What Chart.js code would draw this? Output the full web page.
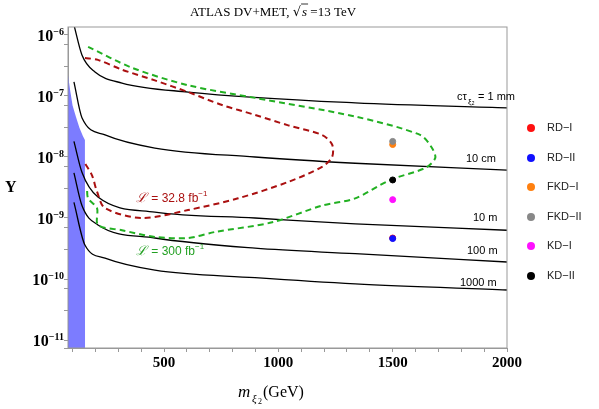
<!DOCTYPE html>
<html>
<head>
<meta charset="utf-8">
<script src="https://cdn.jsdelivr.net/npm/chart.js@4.4.0/dist/chart.umd.min.js"></script>
<style>
  body { margin: 0; background: #fff; }
  #wrap { position: relative; width: 599px; height: 409px; }
  .leg { position: absolute; left: 526px; font: 11px "Liberation Sans", sans-serif; color: #222; }
  .leg span { display: inline-block; width: 8px; height: 8px; border-radius: 50%; margin-right: 12px; vertical-align: -1px; }
</style>
</head>
<body>
<div id="wrap"><canvas id="chart" width="599" height="409"></canvas></div>
<script>
// curvas cτ (m en GeV, Y)
const mTau1 = [106, 141, 198, 316, 605, 1336, 2000];
const yTau1 = [1.46e-6, 4.7e-7, 2.47e-7, 1.63e-7, 1.16e-7, 7.7e-8, 6.4e-8];
const mTau2 = [106, 141, 242, 460, 898, 1336, 2000];
const yTau2 = [1.7e-7, 4.4e-8, 2.3e-8, 1.4e-8, 1.0e-8, 7.9e-9, 6.1e-9];
const mTau3 = [106, 141, 211, 460, 898, 1336, 2000];
const yTau3 = [1.8e-8, 5.6e-9, 2.2e-9, 1.25e-9, 1.0e-9, 8.0e-10, 6.3e-10];
const mTau4 = [106, 141, 211, 460, 898, 1336, 2000];
const yTau4 = [5.5e-9, 1.6e-9, 7.7e-10, 4.7e-10, 3.2e-10, 2.6e-10, 1.9e-10];
const mTau5 = [106, 154, 242, 460, 898, 1336, 2000];
const yTau5 = [1.8e-9, 3.6e-10, 2.2e-10, 1.4e-10, 1.05e-10, 8.3e-11, 6.6e-11];

// contornos de sensibilidad
const mRed = [154, 211, 316, 460, 605, 754, 898, 1043, 1191, 1235, 1235, 1191, 1043, 824, 605, 404, 242, 207, 185, 154];
const yRed = [4.2e-7, 3.9e-7, 2.7e-7, 1.8e-7, 1.16e-7, 7.1e-8, 4.9e-8, 3.3e-8, 2.3e-8, 1.6e-8, 1.0e-8, 6.9e-9, 3.9e-9, 2.1e-9, 1.35e-9, 1.0e-9, 1.45e-9, 2.7e-9, 5.0e-9, 7.9e-9];
const mGreen = [168, 360, 605, 898, 1336, 1620, 1672, 1686, 1642, 1489, 1336, 1191, 973, 723, 605, 460, 316, 211, 207, 168, 163];
const yGreen = [6.4e-7, 2.9e-7, 1.5e-7, 9.3e-8, 4.6e-8, 2.3e-8, 1.4e-8, 9.6e-9, 6.6e-9, 4.2e-9, 2.1e-9, 1.6e-9, 8.5e-10, 5.9e-10, 4.7e-10, 4.9e-10, 6.3e-10, 7.7e-10, 1.45e-9, 2.1e-9, 3.1e-9];

// región excluida (azul)
const mBlue = [80, 90, 100, 115, 130, 145, 154, 155];
const yBlue = [2.2e-7, 1.2e-7, 7e-8, 4.5e-8, 3e-8, 2.2e-8, 1.9e-8, 1e-12];

// puntos de referencia
const benchNames = ['RD\u2212I', 'RD\u2212II', 'FKD\u2212I', 'FKD\u2212II', 'KD\u2212I', 'KD\u2212II'];
const benchM = [1500, 1500, 1500, 1500, 1500, 1500];
const benchY = [4.7e-10, 4.6e-10, 1.6e-8, 1.8e-8, 2.0e-9, 4.2e-9];
const benchColors = ['#ff1010', '#1010ff', '#ff8010', '#888888', '#ff10ff', '#000000'];

const xy = (ms, ys) => ms.map((m, i) => ({ x: m, y: ys[i] }));

const datasets = [];
datasets.push({ data: xy(mBlue, yBlue), showLine: true, pointRadius: 0, borderWidth: 0, order: 20,
  borderColor: 'rgba(0,0,0,0)', backgroundColor: 'rgba(110,110,255,0.9)', fill: 'start' });
[[mTau1, yTau1], [mTau2, yTau2], [mTau3, yTau3], [mTau4, yTau4], [mTau5, yTau5]].forEach(c => {
  datasets.push({ data: xy(c[0], c[1]), showLine: true, pointRadius: 0, borderColor: '#000',
    borderWidth: 1.3, cubicInterpolationMode: 'monotone', order: 10 });
});
datasets.push({ data: xy(mRed, yRed), showLine: true, pointRadius: 0, borderColor: '#aa1010',
  borderWidth: 2, borderDash: [6, 4], tension: 0.3, order: 9 });
datasets.push({ data: xy(mGreen, yGreen), showLine: true, pointRadius: 0, borderColor: '#22b022',
  borderWidth: 2, borderDash: [6, 4], tension: 0.3, order: 9 });
benchNames.forEach((n, i) => {
  datasets.push({ label: n, data: [{ x: benchM[i], y: benchY[i] }], pointRadius: 3,
    backgroundColor: benchColors[i], borderColor: benchColors[i], order: 6 - i });
});

const sup = (ctx, base, exp, x, y, f, fs) => {
  ctx.font = f;
  ctx.fillText(base, x, y);
  const w = ctx.measureText(base).width;
  ctx.font = fs;
  ctx.fillText(exp, x + w, y - 6);
};

const textPlugin = {
  id: 'texts',
  afterDraw(chart) {
    const ctx = chart.ctx, ys = chart.scales.y, a = chart.chartArea;
    ctx.save();
    ctx.fillStyle = '#000';
    ctx.textBaseline = 'alphabetic';
    // y tick labels
    [-6, -7, -8, -9, -10, -11].forEach(e => {
      const py = ys.getPixelForValue(Math.pow(10, e)) + 6;
      const eStr = '\u2212' + (-e);
      ctx.font = 'bold 10px "Liberation Serif"';
      const we = ctx.measureText(eStr).width;
      ctx.font = 'bold 16px "Liberation Serif"';
      const wb = ctx.measureText('10').width;
      ctx.textAlign = 'left';
      sup(ctx, '10', eStr, a.left - 4 - wb - we, py, 'bold 16px "Liberation Serif"', 'bold 10px "Liberation Serif"');
    });
    // title
    ctx.textAlign = 'left';
    ctx.font = '13px "Liberation Serif"';
    ctx.fillText('ATLAS DV+MET, ', 190, 16);
    let x = 190 + ctx.measureText('ATLAS DV+MET, ').width;
    ctx.font = '13px "DejaVu Serif"';
    ctx.fillText('\u221A', x, 16);
    x += ctx.measureText('\u221A').width;
    ctx.beginPath(); ctx.moveTo(x, 4); ctx.lineTo(x + 7, 4); ctx.lineWidth = 0.8; ctx.strokeStyle = '#000'; ctx.stroke();
    ctx.font = 'italic 13px "Liberation Serif"';
    ctx.fillText('s', x + 1, 16);
    ctx.font = '13px "Liberation Serif"';
    ctx.fillText(' =13 TeV', x + 6, 16);
    // axis titles
    ctx.font = 'bold 16px "Liberation Serif"';
    ctx.fillText('Y', 5, 192);
    ctx.font = 'italic 17px "Liberation Serif"';
    ctx.fillText('m', 238, 397);
    ctx.font = 'italic 11px "Liberation Serif"';
    ctx.fillText('\u03BE', 252, 402);
    ctx.font = '8px "Liberation Serif"';
    ctx.fillText('2', 258, 404);
    ctx.font = '16px "Liberation Serif"';
    ctx.fillText('(GeV)', 263, 397);
    // curve labels
    ctx.font = '11px "Liberation Sans"';
    ctx.fillText('c\u03C4', 457, 100);
    ctx.font = '8px "Liberation Sans"';
    ctx.fillText('\u03BE\u2082', 468, 104);
    ctx.font = '11px "Liberation Sans"';
    ctx.fillText('= 1 mm', 478, 100);
    ctx.fillText('10 cm', 466, 162);
    ctx.fillText('10 m', 473, 221);
    ctx.fillText('100 m', 467, 254);
    ctx.fillText('1000 m', 460, 286);
    ctx.fillStyle = '#aa1010';
    ctx.font = 'italic 13px "DejaVu Serif"';
    ctx.fillText('\u2112', 136, 202);
    sup(ctx, ' = 32.8 fb', '\u22121', 148, 202, '12px "Liberation Sans"', '8px "Liberation Sans"');
    ctx.fillStyle = '#22a022';
    ctx.font = 'italic 13px "DejaVu Serif"';
    ctx.fillText('\u2112', 136, 255);
    sup(ctx, ' = 300 fb', '\u22121', 148, 255, '12px "Liberation Sans"', '8px "Liberation Sans"');
    ctx.restore();
  }
};

new Chart(document.getElementById('chart'), {
  type: 'scatter',
  data: { datasets },
  options: {
    responsive: false,
    animation: false,
    layout: { padding: { top: 27, right: 92 } },
    plugins: { legend: { display: false }, tooltip: { enabled: false } },
    scales: {
      x: {
        type: 'linear', min: 80, max: 2000,
        afterFit: s => { s.height = 61; },
        afterBuildTicks: s => {
          const t = [];
          for (let v = 100; v <= 2000; v += 100) t.push({ value: v });
          s.ticks = t;
        },
        ticks: { callback: v => (v % 500 === 0 ? v : ''), autoSkip: false, maxRotation: 0,
          color: '#000', font: { family: 'Liberation Serif', weight: 'bold', size: 15 }, padding: 2 },
        grid: { drawOnChartArea: false, tickLength: 4, color: '#999' },
        border: { color: '#999' }
      },
      y: {
        type: 'logarithmic', min: 7.4e-12, max: 1.35e-6,
        afterFit: s => { s.width = 68; },
        ticks: { callback: () => '' },
        grid: { drawOnChartArea: false, tickLength: 4, color: '#999' },
        border: { color: '#999' }
      }
    }
  },
  plugins: [textPlugin, {
    id: 'frame',
    afterDatasetsDraw(chart) {
      const a = chart.chartArea, ctx = chart.ctx;
      ctx.save(); ctx.strokeStyle = '#999'; ctx.lineWidth = 1;
      ctx.strokeRect(a.left, a.top, a.right - a.left, a.bottom - a.top);
      ctx.restore();
    }
  }]
});

// leyenda
const wrap = document.getElementById('wrap');
benchNames.forEach((n, i) => {
  const d = document.createElement('div');
  d.className = 'leg';
  d.style.top = (121 + i * 29.5) + 'px';
  d.style.left = '527px';
  d.innerHTML = '<span style="background:' + benchColors[i] + '"></span>' + n;
  wrap.appendChild(d);
});
</script>
</body>
</html>
